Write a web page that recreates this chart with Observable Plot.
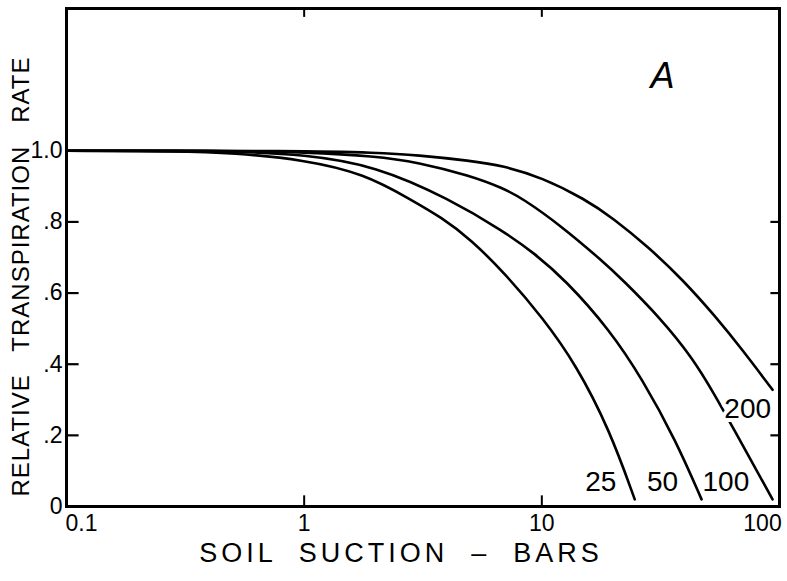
<!DOCTYPE html>
<html>
<head>
<meta charset="utf-8">
<script src="https://cdn.jsdelivr.net/npm/d3@7"></script>
<script src="https://cdn.jsdelivr.net/npm/@observablehq/plot@0.6"></script>
<style>
  html, body { margin: 0; padding: 0; background: #fff; }
  #chart svg { display: block; }
</style>
</head>
<body>
<div id="chart"></div>
<script>
// Curve data (soil suction in bars, relative transpiration rate)
const series = ["25", "50", "100", "200"];
const x25  = [0.1, 0.3, 0.5, 1, 1.8, 2.79, 3.8, 5, 7, 10.1, 13.9, 19.3, 24.6];
const y25  = [1, 0.999, 0.994, 0.975, 0.935, 0.864, 0.812, 0.752, 0.655, 0.53, 0.40, 0.215, 0.02];
const x50  = [0.1, 0.3, 0.5, 1, 2, 4.1, 6.86, 9.3, 12.5, 19.3, 26.6, 36.6, 47];
const y50  = [1, 1, 0.998, 0.99, 0.958, 0.864, 0.775, 0.712, 0.638, 0.497, 0.356, 0.186, 0.02];
const x100 = [0.1, 0.5, 1, 2, 3, 5, 6.86, 8.3, 12, 18, 21.9, 31.3, 43.1, 53.8, 62.2, 93.5];
const y100 = [1, 1, 0.996, 0.985, 0.968, 0.93, 0.895, 0.866, 0.79, 0.69, 0.637, 0.532, 0.418, 0.31, 0.234, 0.02];
const x200 = [0.1, 1, 2, 3, 5, 6.86, 10, 15.2, 20, 28, 39.1, 53.8, 69.9, 93.5];
const y200 = [1, 1, 0.995, 0.988, 0.972, 0.958, 0.925, 0.864, 0.81, 0.73, 0.638, 0.534, 0.44, 0.328];

// Axis ticks and labels
const xTickValues = [0.1, 1, 10, 100];
const xTickLabels = ["0.1", "1", "10", "100"];
const xInnerTicks = [1, 10];
const yTickValues = [0, 0.2, 0.4, 0.6, 0.8, 1.0];
const yTickLabels = ["0", ".2", ".4", ".6", ".8", "1.0"];
const yLeftTicks = [0.2, 0.4, 0.6, 0.8];
const yRightTicks = [0.2, 0.4, 0.6, 0.8];

// Curve label positions
const labelText = ["25", "50", "100", "200"];
const labelX = [17.7, 32.2, 59.5, 73.5];
const labelY = [0.07, 0.07, 0.07, 0.275];

const xTitle = "SOIL  SUCTION  \u2013  BARS";
const yTitle = "RELATIVE   TRANSPIRATION   RATE";
const panel = "A";

const rows = [];
[[x25, y25], [x50, y50], [x100, y100], [x200, y200]].forEach(([xs, ys], i) => {
  xs.forEach((x, j) => rows.push({series: series[i], x, y: ys[j]}));
});
const labels = labelText.map((t, i) => ({t, x: labelX[i], y: labelY[i]}));
const xt = xTickValues.map((v, i) => ({v, t: xTickLabels[i]}));
const yt = yTickValues.map((v, i) => ({v, t: yTickLabels[i]}));

const font = "'Liberation Sans', 'DejaVu Sans', sans-serif";

const chart = Plot.plot({
  width: 787,
  height: 581,
  marginLeft: 66,
  marginRight: 8,
  marginTop: 8,
  marginBottom: 75,
  x: {type: "log", domain: [0.1, 100], axis: null},
  y: {domain: [0, 1.4], axis: null},
  style: {fontFamily: font, background: "white", color: "black"},
  marks: [
    Plot.line(rows, {x: "x", y: "y", z: "series", curve: "basis", stroke: "black", strokeWidth: 2.6}),
    Plot.text(labels, {x: "x", y: "y", text: "t", fontSize: 28, fill: "black", stroke: "white", strokeWidth: 8, paintOrder: "stroke"}),
    Plot.ruleX(xInnerTicks, {y1: 0, y2: 0.03, stroke: "black", strokeWidth: 2}),
    Plot.ruleX(xInnerTicks, {y1: 1.375, y2: 1.4, stroke: "black", strokeWidth: 2}),
    Plot.ruleY(yLeftTicks, {x1: 0.1, x2: 0.113, stroke: "black", strokeWidth: 2.2}),
    Plot.ruleY(yRightTicks, {x1: 92, x2: 100, stroke: "black", strokeWidth: 2.2}),
    Plot.frame({stroke: "black", strokeWidth: 3}),
    // x tick labels
    Plot.text(xt.filter(d => d.v > 0.1 && d.v < 100), {x: "v", y: 0, text: "t", dy: 17, fontSize: 23, fill: "black"}),
    Plot.text(xt.filter(d => d.v === 0.1), {x: "v", y: 0, text: "t", dy: 17, dx: 15, fontSize: 23, fill: "black"}),
    Plot.text(xt.filter(d => d.v === 100), {x: "v", y: 0, text: "t", dy: 17, dx: -17, fontSize: 23, fill: "black"}),
    // y tick labels
    Plot.text(yt, {x: 0.1, y: "v", text: "t", dx: -4, textAnchor: "end", fontSize: 23, fill: "black"}),
    // axis titles
    Plot.text([xTitle], {frameAnchor: "bottom", textAnchor: "middle", lineAnchor: "middle", dy: 47, dx: -22, fontSize: 27, fill: "black", text: d => d}),
    Plot.text([yTitle], {frameAnchor: "left", textAnchor: "middle", lineAnchor: "middle", dx: -45, dy: 19, rotate: -90, fontSize: 24, fill: "black", text: d => d}),
    // panel letter
    Plot.text([panel], {x: 32.2, y: 1.21, text: d => d, fontSize: 36, fontStyle: "italic", fontWeight: 300, fill: "black"})
  ]
});
chart.querySelectorAll("text").forEach(t => {
  t.setAttribute("xml:space", "preserve");
  if (t.textContent === xTitle) t.style.letterSpacing = "4px";
  if (t.textContent === yTitle) t.style.letterSpacing = "1px";
});
chart.style.whiteSpace = "pre";
document.getElementById("chart").appendChild(chart);
</script>
</body>
</html>
